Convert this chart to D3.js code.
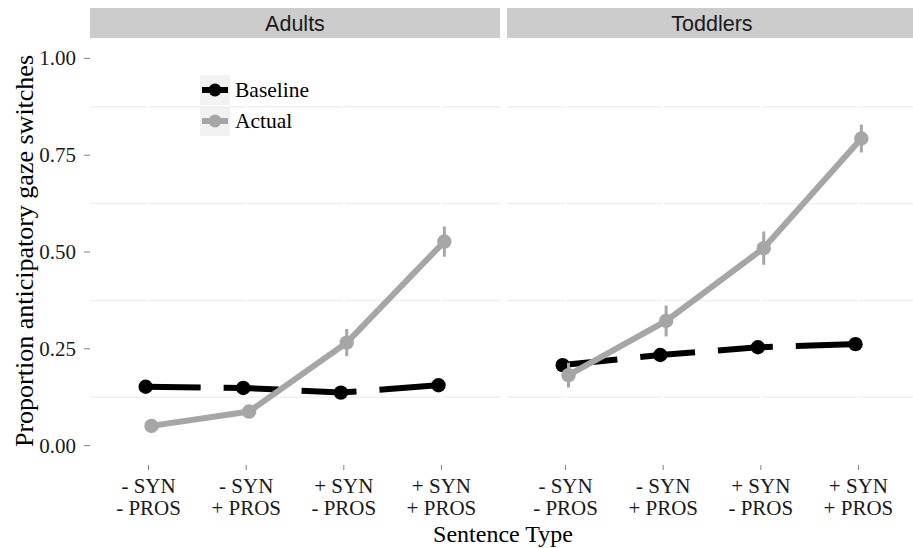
<!DOCTYPE html>
<html>
<head>
<meta charset="utf-8">
<script src="https://cdn.jsdelivr.net/npm/d3@7"></script>
<style>
  html, body { margin: 0; padding: 0; background: #ffffff; }
  svg { display: block; }
</style>
</head>
<body>
<svg id="chart" width="913" height="548"></svg>
<script>
// ---- data ----
const panels = ["Adults", "Toddlers"];
const categories = ["-SYN-PROS", "-SYN+PROS", "+SYN-PROS", "+SYN+PROS"];
const catLine1 = ["- SYN", "- SYN", "+ SYN", "+ SYN"];
const catLine2 = ["- PROS", "+ PROS", "- PROS", "+ PROS"];
const seriesNames = ["Baseline", "Actual"];
const seriesColors = ["#000000", "#a6a6a6"];

const adultsBaseline = [0.152, 0.149, 0.137, 0.156];
const adultsBaselineSE = [0.008, 0.008, 0.008, 0.008];
const adultsActual = [0.051, 0.088, 0.266, 0.527];
const adultsActualSE = [0.008, 0.014, 0.035, 0.039];

const toddlersBaseline = [0.208, 0.234, 0.254, 0.262];
const toddlersBaselineSE = [0.008, 0.008, 0.008, 0.008];
const toddlersActual = [0.182, 0.322, 0.510, 0.793];
const toddlersActualSE = [0.032, 0.040, 0.043, 0.036];

const yTicks = [0, 0.25, 0.5, 0.75, 1.0];
const yMinor = [0.125, 0.375, 0.625, 0.875];

const panelData = [
  { name: panels[0], series: [
      { name: seriesNames[0], values: adultsBaseline, se: adultsBaselineSE },
      { name: seriesNames[1], values: adultsActual, se: adultsActualSE } ] },
  { name: panels[1], series: [
      { name: seriesNames[0], values: toddlersBaseline, se: toddlersBaselineSE },
      { name: seriesNames[1], values: toddlersActual, se: toddlersActualSE } ] }
];

// ---- layout ----
const svg = d3.select("#chart");
const panelLeft = [90, 507];
const panelW = 410;
const stripTop = 8, stripBottom = 38;
const plotTop = 39, plotBottom = 465;
const serif = "'Liberation Serif', 'Times New Roman', serif";
const sans = "'Liberation Sans', Arial, sans-serif";
const tickFont = 21;

const y = d3.scaleLinear().domain([-0.05, 1.05]).range([plotBottom, plotTop]);
const x = d3.scalePoint().domain(categories).range([0, panelW]).padding(0.6);
const dodge = [-0.03 * x.step(), 0.03 * x.step()];

const clip = svg.append("defs");

panelData.forEach((p, pi) => {
  const left = panelLeft[pi];
  clip.append("clipPath").attr("id", "clip" + pi)
    .append("rect").attr("x", left).attr("y", plotTop).attr("width", panelW).attr("height", plotBottom - plotTop);

  // strip
  svg.append("rect").attr("x", left).attr("y", stripTop).attr("width", panelW).attr("height", stripBottom - stripTop)
    .attr("fill", "#cccccc");
  svg.append("text").attr("x", left + panelW / 2).attr("y", 31)
    .attr("text-anchor", "middle")
    .attr("font-family", sans).attr("font-size", 21.5).attr("fill", "#1a1a1a").text(p.name);

  const g = svg.append("g").attr("transform", `translate(${left},0)`);
  const gc = svg.append("g").attr("clip-path", `url(#clip${pi})`).append("g").attr("transform", `translate(${left},0)`);

  // minor gridlines
  gc.selectAll(".minor").data(yMinor).enter().append("line")
    .attr("x1", 0).attr("x2", panelW).attr("y1", d => y(d)).attr("y2", d => y(d))
    .attr("stroke", "#f0f0f0").attr("stroke-width", 1.5);
  // major gridlines (white)
  gc.selectAll(".major").data(yTicks).enter().append("line")
    .attr("x1", 0).attr("x2", panelW).attr("y1", d => y(d)).attr("y2", d => y(d))
    .attr("stroke", "#ffffff").attr("stroke-width", 2);
  gc.selectAll(".vmajor").data(categories).enter().append("line")
    .attr("x1", d => x(d)).attr("x2", d => x(d)).attr("y1", plotTop).attr("y2", plotBottom)
    .attr("stroke", "#ffffff").attr("stroke-width", 2);

  // series
  p.series.forEach((s, si) => {
    const col = seriesColors[si];
    const pts = s.values.map((v, i) => ({ x: x(categories[i]) + dodge[si], v: v, se: s.se[i] }));
    const line = d3.line().x(d => d.x).y(d => y(d.v));
    gc.append("path").datum(pts).attr("d", line).attr("fill", "none")
      .attr("stroke", col).attr("stroke-width", 6)
      .attr("stroke-dasharray", si === 0 ? "55,23" : null)
      .attr("stroke-linecap", "butt");
    gc.selectAll(".err" + si).data(pts).enter().append("line")
      .attr("x1", d => d.x).attr("x2", d => d.x)
      .attr("y1", d => y(d.v - d.se)).attr("y2", d => y(d.v + d.se))
      .attr("stroke", col).attr("stroke-width", 3);
    gc.selectAll(".pt" + si).data(pts).enter().append("circle")
      .attr("cx", d => d.x).attr("cy", d => y(d.v)).attr("r", 7.2).attr("fill", col);
  });

  // x axis
  const xa = g.append("g");
  categories.forEach((c, i) => {
    xa.append("line").attr("x1", x(c)).attr("x2", x(c)).attr("y1", plotBottom).attr("y2", plotBottom + 5)
      .attr("stroke", "#7f7f7f").attr("stroke-width", 1);
    const t = xa.append("text").attr("text-anchor", "middle")
      .attr("font-family", serif).attr("font-size", tickFont).attr("fill", "#1a1a1a");
    t.append("tspan").attr("x", x(c)).attr("y", 493).text(catLine1[i]);
    t.append("tspan").attr("x", x(c)).attr("y", 515).text(catLine2[i]);
  });
});

// y axis (left panel)
const ya = svg.append("g");
yTicks.forEach(v => {
  ya.append("line").attr("x1", 84).attr("x2", 90).attr("y1", y(v)).attr("y2", y(v))
    .attr("stroke", "#7f7f7f").attr("stroke-width", 1);
  ya.append("text").attr("x", 76).attr("y", y(v) + 7).attr("text-anchor", "end")
    .attr("font-family", serif).attr("font-size", tickFont).attr("fill", "#1a1a1a")
    .text(d3.format(".2f")(v));
});

// axis titles
svg.append("text").attr("x", 503).attr("y", 542).attr("text-anchor", "middle")
  .attr("font-family", serif).attr("font-size", 24).attr("fill", "#000").text("Sentence Type");
svg.append("text").attr("transform", `translate(33,251) rotate(-90)`)
  .attr("text-anchor", "middle")
  .attr("font-family", serif).attr("font-size", 26).attr("fill", "#000")
  .text("Proportion anticipatory gaze switches");

// legend
const lg = svg.append("g").attr("transform", "translate(200,75)");
seriesNames.forEach((n, i) => {
  const ky = i * 31;
  lg.append("rect").attr("x", 0).attr("y", ky).attr("width", 30).attr("height", 30).attr("fill", "#f2f2f2");
  lg.append("line").attr("x1", 2).attr("x2", 28).attr("y1", ky + 15).attr("y2", ky + 15)
    .attr("stroke", seriesColors[i]).attr("stroke-width", 6);
  lg.append("circle").attr("cx", 15).attr("cy", ky + 15).attr("r", 6.5).attr("fill", seriesColors[i]);
  lg.append("text").attr("x", 35).attr("y", ky + 22)
    .attr("font-family", serif).attr("font-size", 21.5).attr("fill", "#000").text(n);
});
</script>
</body>
</html>
